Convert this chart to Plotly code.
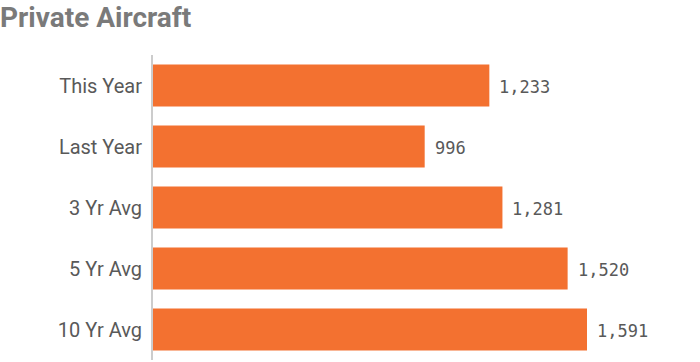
import plotly.graph_objects as go

categories = ["This Year", "Last Year", "3 Yr Avg", "5 Yr Avg", "10 Yr Avg"]
values = [1233, 996, 1281, 1520, 1591]
labels = ["1,233", "996", "1,281", "1,520", "1,591"]

fig = go.Figure(go.Bar(
    x=values, y=categories, orientation="h",
    marker=dict(color="#F37130", line=dict(width=0)),
    width=0.69,
    hoverinfo="x+y",
))

for v, c, t in zip(values, categories, labels):
    fig.add_annotation(x=v, y=c, text=t, showarrow=False, xanchor="left", yanchor="middle",
                       xshift=8, yshift=-1,
                       font=dict(family="DejaVu Sans Mono, monospace", size=17, color="#595959"))

left, right = 153, 690
fig.update_layout(
    width=700, height=362,
    margin=dict(l=left, r=700 - right, t=55, b=2),
    paper_bgcolor="white", plot_bgcolor="white",
    showlegend=False,
    title=dict(text="<b>Private Aircraft</b>", x=0.0, xref="container", xanchor="left",
               y=1.0, yref="container", yanchor="top", pad=dict(t=7, l=0),
               font=dict(family="Roboto, Open Sans, sans-serif", size=28, color="#7a7a7a")),
)
fig.update_xaxes(range=[0, (right - left) / ((587 - 153) / 1591)], visible=False, showgrid=False, zeroline=False)
fig.update_yaxes(autorange="reversed", showgrid=False, zeroline=False,
                 showline=True, linecolor="#cccccc", linewidth=2, ticks="", ticklabelstandoff=5,
                 tickfont=dict(family="Roboto, Open Sans, sans-serif", size=20, color="#595959"))

fig.write_html("out.html", config={"displayModeBar": False},
               post_script="document.body.style.margin='0';document.body.style.overflow='hidden';")
